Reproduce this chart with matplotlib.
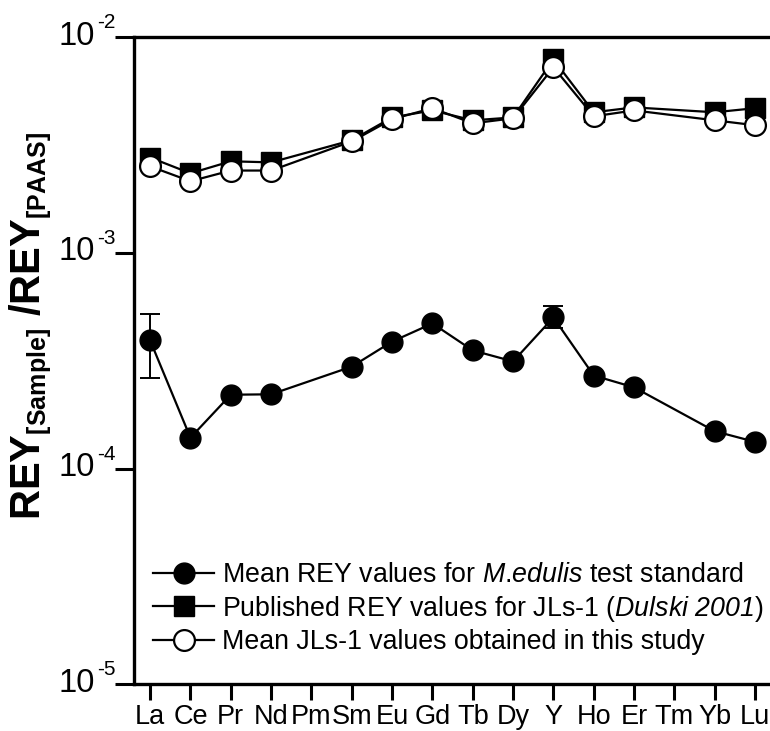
import matplotlib
matplotlib.use("Agg")
import matplotlib.pyplot as plt
import matplotlib.transforms as mtransforms
import numpy as np
try:
    import matplotlib._mathtext as _mt
    _mt.SHRINK_FACTOR = 0.6
except Exception:
    pass

elements = ["La", "Ce", "Pr", "Nd", "Pm", "Sm", "Eu", "Gd", "Tb", "Dy",
            "Y", "Ho", "Er", "Tm", "Yb", "Lu"]

nan = np.nan
# Mean REY values for M.edulis test standard
medulis = [3.93e-4, 1.39e-4, 2.20e-4, 2.21e-4, nan, 2.97e-4, 3.88e-4, 4.71e-4,
           3.53e-4, 3.14e-4, 5.02e-4, 2.70e-4, 2.38e-4, nan, 1.49e-4, 1.33e-4]
medulis_err_low = [1.31e-4, nan, nan, nan, nan, nan, nan, nan,
                   nan, nan, 0.55e-4, nan, nan, nan, nan, nan]
medulis_err_high = [1.26e-4, nan, nan, nan, nan, nan, nan, nan,
                    nan, nan, 0.68e-4, nan, nan, nan, nan, nan]
# Published REY values for JLs-1 (Dulski 2001)
jls1_pub = [2.77e-3, 2.34e-3, 2.66e-3, 2.63e-3, nan, 3.33e-3, 4.25e-3, 4.58e-3,
            4.12e-3, 4.25e-3, 7.90e-3, 4.49e-3, 4.73e-3, nan, 4.49e-3, 4.69e-3]
# Mean JLs-1 values obtained in this study
jls1_study = [2.52e-3, 2.15e-3, 2.41e-3, 2.41e-3, nan, 3.29e-3, 4.17e-3, 4.69e-3,
              3.99e-3, 4.21e-3, 7.26e-3, 4.30e-3, 4.58e-3, nan, 4.12e-3, 3.91e-3]

yticks = [1e-5, 1e-4, 1e-3, 1e-2]
ytick_base = ["10", "10", "10", "10"]
ytick_exp = ["-5", "-4", "-3", "-2"]

labels = ["Mean REY values for $\\mathsf{M}$.$\\mathsf{edulis}$ test standard",
          "Published REY values for JLs-1 ($\\mathsf{Dulski\\ 2001}$)",
          "Mean JLs-1 values obtained in this study"]
ylabel = r'$\mathbf{REY_{[Sample]}\ /REY_{[PAAS]}}$'

plt.rcParams['font.family'] = ['Liberation Sans', 'DejaVu Sans']
plt.rcParams['mathtext.fontset'] = 'custom'
plt.rcParams['mathtext.rm'] = 'Liberation Sans'
plt.rcParams['mathtext.it'] = 'Liberation Sans:italic'
plt.rcParams['mathtext.sf'] = 'Liberation Sans:italic'
plt.rcParams['mathtext.bf'] = 'Liberation Sans:bold'

fig = plt.figure(figsize=(7.70, 7.31), dpi=100)
ax = fig.add_axes([0.174, 0.064, 0.826, 0.885])

x = np.arange(len(elements))

def plot_series(vals, **kw):
    v = np.array(vals, dtype=float)
    m = ~np.isnan(v)
    return ax.plot(x[m], v[m], **kw)[0]

lw = 1.6
ms = 15
h1 = plot_series(medulis, color='black', lw=lw, marker='o', ms=ms,
                 mfc='black', mec='black', zorder=3)
lo = np.array(medulis_err_low, dtype=float)
hi = np.array(medulis_err_high, dtype=float)
mv = np.array(medulis, dtype=float)
em = ~np.isnan(lo)
ax.errorbar(x[em], mv[em], yerr=[lo[em], hi[em]], fmt='none', ecolor='black',
            elinewidth=1.4, capsize=7, capthick=1.4, zorder=2)
h2 = plot_series(jls1_pub, color='black', lw=lw, marker='s', ms=14,
                 mfc='black', mec='black', zorder=4)
h3 = plot_series(jls1_study, color='black', lw=lw, marker='o', ms=ms,
                 mfc='white', mec='black', mew=1.6, zorder=5)

ax.set_yscale('log')
ax.set_ylim(1e-5, 1e-2)
ax.set_xlim(-0.4, 15.37)
ax.set_yticks(yticks)
ax.set_yticklabels(ytick_base)
ax.yaxis.set_minor_locator(matplotlib.ticker.NullLocator())
ax.set_xticks(x)
ax.set_xticklabels(elements)

ax.tick_params(axis='y', which='major', direction='out', length=14, width=2.2,
               labelsize=23.5, pad=14)
ax.tick_params(axis='x', which='major', direction='out', length=11.5, width=2.2,
               labelsize=19.5, pad=3)

shift = mtransforms.ScaledTranslation(0, 4.5 / 100, fig.dpi_scale_trans)
for lab in ax.get_yticklabels():
    lab.set_transform(lab.get_transform() + shift)

ytrans = ax.get_yaxis_transform()
for v, e in zip(yticks, ytick_exp):
    ax.annotate(e, xy=(0, v), xycoords=ytrans, xytext=(-26.6, 6.5),
                textcoords='offset points', ha='left', va='baseline',
                fontsize=15, annotation_clip=False)

for s in ['left', 'top', 'bottom']:
    ax.spines[s].set_linewidth(2.4)
ax.spines['right'].set_visible(False)

fig.text(31 / 770, 1 - 326 / 731, ylabel, fontsize=30, rotation=90,
         ha='center', va='center')

leg = ax.legend([h1, h2, h3], labels, loc='lower left',
                bbox_to_anchor=(0.0, 0.016), frameon=False, fontsize=19.3,
                handlelength=2.3, handletextpad=0.3, labelspacing=0.2,
                borderaxespad=0.3)

fig.savefig('out.png', dpi=100)
